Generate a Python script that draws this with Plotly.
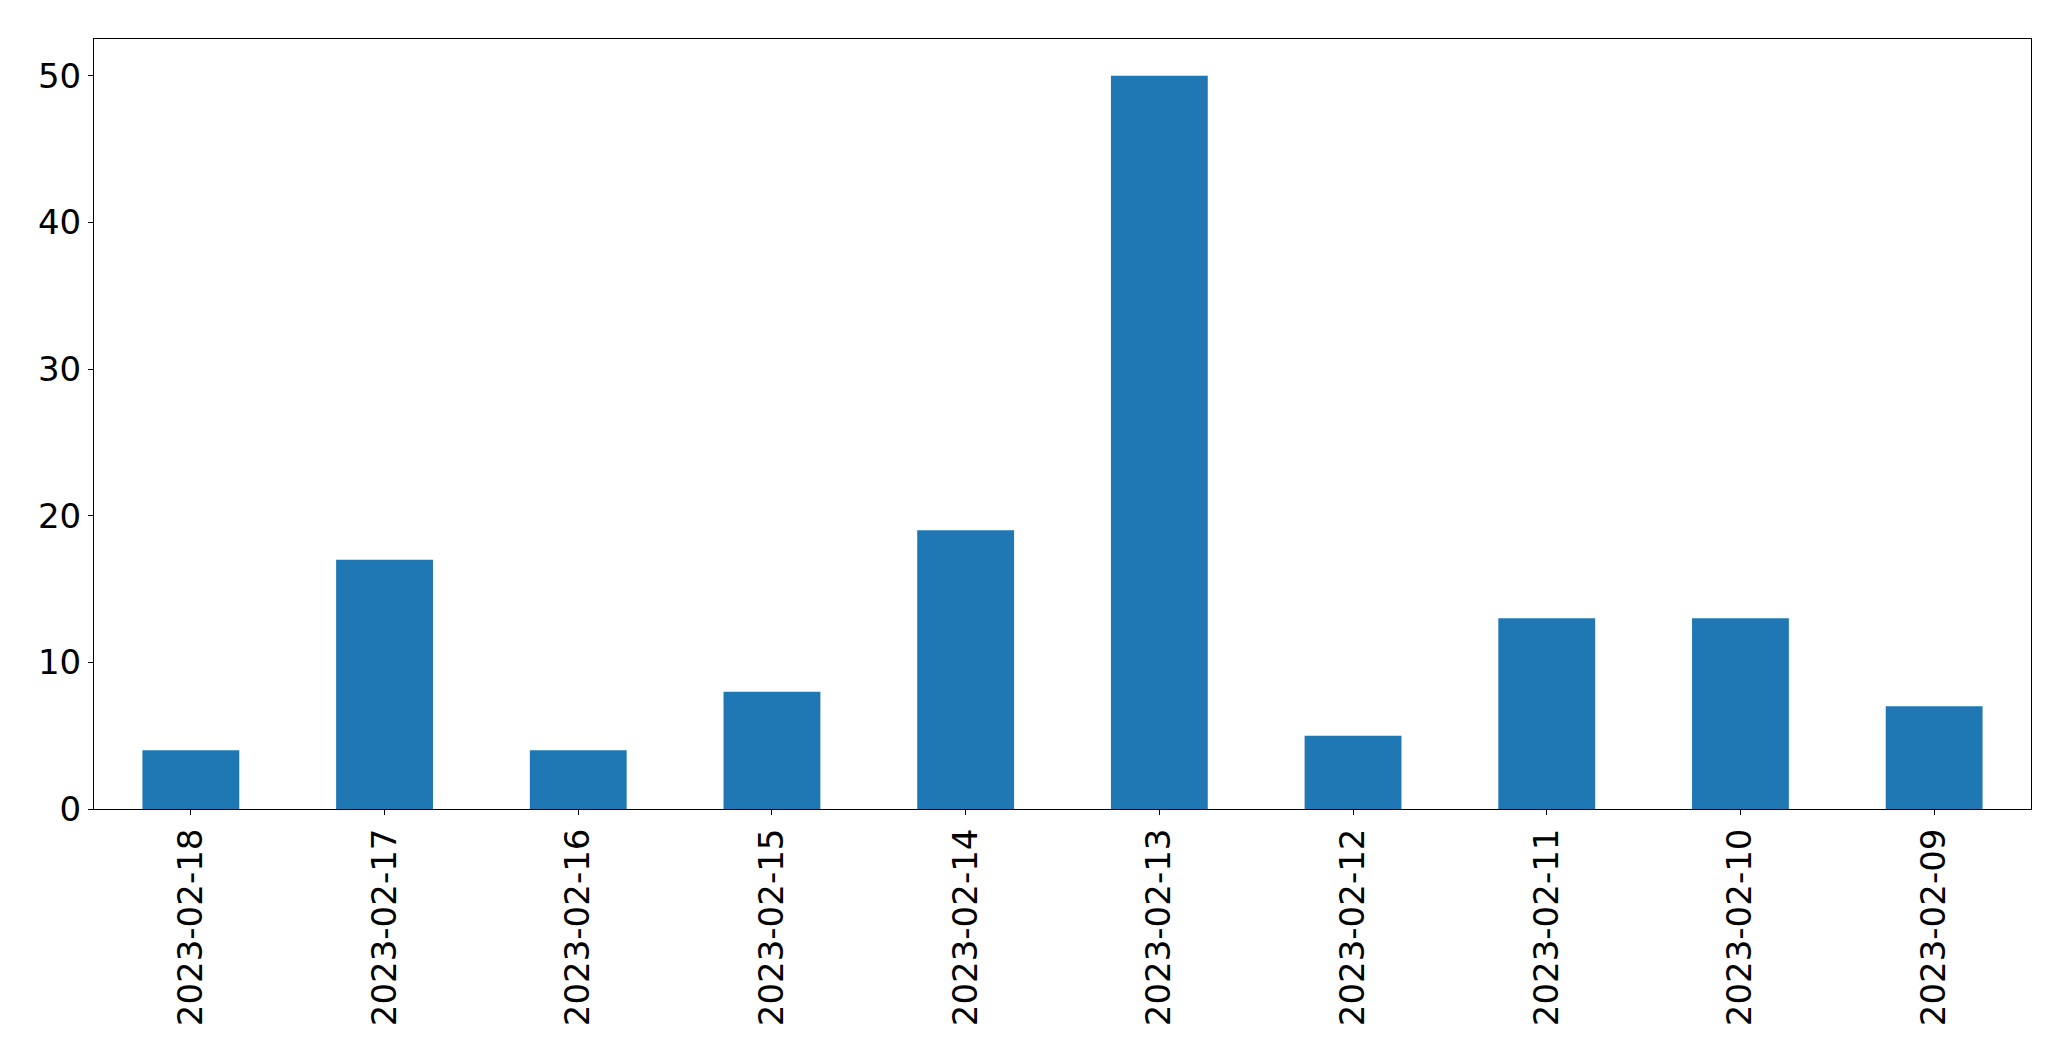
import plotly.graph_objects as go

dates = ["2023-02-18", "2023-02-17", "2023-02-16", "2023-02-15", "2023-02-14",
         "2023-02-13", "2023-02-12", "2023-02-11", "2023-02-10", "2023-02-09"]
counts = [4, 17, 4, 8, 19, 50, 5, 13, 13, 7]
y_ticks = [0, 10, 20, 30, 40, 50]

fig = go.Figure(go.Bar(x=dates, y=counts, width=0.5, marker_color="#1f77b4",
                       marker_line_width=0))

axis_common = dict(showline=True, mirror=True, linecolor="black", linewidth=1,
                   ticks="outside", ticklen=5, tickcolor="black", showgrid=False,
                   zeroline=False, automargin=False,
                   tickfont=dict(family="DejaVu Sans", size=34, color="black"))

# page body has an 8px default margin; compensate so the plot area lands
# at the same page position as the reference
fig.update_layout(
    width=2055, height=1045,
    margin=dict(l=86, r=32, t=31, b=244, autoexpand=False),
    paper_bgcolor="white", plot_bgcolor="white",
    showlegend=False,
    xaxis=dict(type="category", range=[-0.5, 9.5], tickangle=-90, **axis_common),
    yaxis=dict(range=[0, 52.5], tickvals=y_ticks, **axis_common),
)

fig.write_html("out.html")
